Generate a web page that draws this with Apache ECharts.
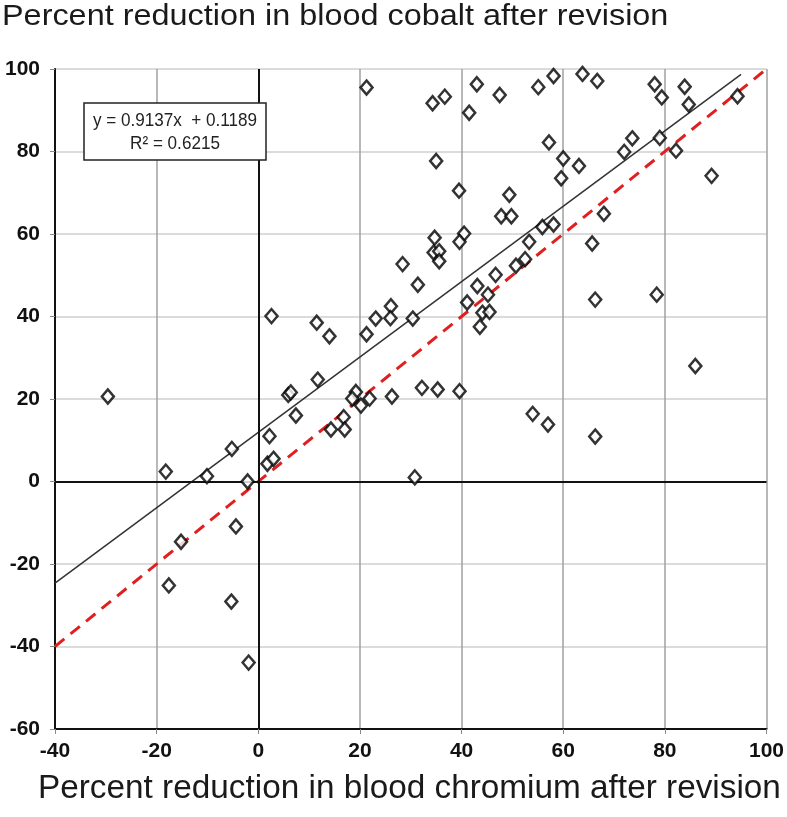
<!DOCTYPE html>
<html><head><meta charset="utf-8">
<script src="https://cdn.jsdelivr.net/npm/echarts@6/dist/echarts.min.js"></script>
<style>html,body{margin:0;padding:0;background:#fff}#c{width:787px;height:817px}</style>
</head><body><div id="c"></div>
<script>
const chromium = [-29.6,2.6,5.9,6.4,7.4,2.2,-5.2,1.8,3.0,-18.2,-10.1,-2.1,-15.2,-4.4,-17.6,-5.3,-1.9,
21.3,34.3,36.7,43.0,41.5,47.5,55.1,35.0,39.5,49.4,47.8,49.8,34.7,40.5,39.6,34.5,35.6,35.6,28.4,57.2,53.3,55.9,58.1,52.5,50.7,46.7,31.4,
58.1,63.8,66.7,78.0,79.4,83.9,84.7,94.3,60.0,59.6,63.1,72.0,73.6,79.0,82.2,89.2,68.0,65.7,
11.5,14.0,21.3,23.1,26.1,26.0,30.4,41.1,43.1,45.2,44.1,45.5,43.6,11.7,19.2,18.5,20.2,21.9,26.3,32.2,35.3,39.6,16.8,14.3,17.0,30.8,54.0,57.0,66.3,66.3,78.4,86.0];
const cobalt = [20.6,40.1,21.0,21.6,16.0,11.0,7.9,4.3,5.5,2.4,1.3,0,-14.6,-10.9,-25.2,-29.1,-43.9,
95.5,91.7,93.3,96.3,89.4,93.7,95.6,77.7,70.5,69.5,64.3,64.3,59.1,60.1,58.1,55.5,55.8,53.4,52.7,82.2,58.1,61.7,62.3,53.9,52.3,50.1,47.7,
98.3,98.8,97.1,96.3,93.1,95.7,91.4,93.4,78.3,73.5,76.5,79.9,83.2,83.3,80.2,74.1,64.9,57.7,
38.5,35.2,35.7,39.5,42.5,39.6,39.5,43.4,47.4,45.3,40.9,41.1,37.5,24.7,21.7,20.1,18.4,20.1,20.6,22.7,22.3,21.9,15.6,12.6,12.6,1.0,16.4,13.8,10.9,44.1,45.3,28.0];
const trendX = [-40, 95];
const trendSlope = 0.9137, trendIntercept = 11.89;
const identityX = [-40, 100];
const titleText = 'Percent reduction in blood cobalt after revision';
const xTitleText = 'Percent reduction in blood chromium after revision';
const eqLine1 = 'y = 0.9137x  + 0.1189';
const eqLine2 = 'R² = 0.6215';

const points = chromium.map((x,i)=>[x,cobalt[i]]);
const trend = trendX.map(x=>[x, trendSlope*x+trendIntercept]);
const identity = identityX.map(x=>[x,x]);
const FONT = '"Liberation Sans",Arial,Helvetica,sans-serif';

const chart = echarts.init(document.getElementById('c'));
chart.setOption({
  animation:false,
  grid:{left:55,top:69,right:17,bottom:88},
  xAxis:{type:'value',min:-40,max:100,interval:20,
    axisLine:{show:true,onZero:false,lineStyle:{color:'#111',width:2}},
    axisTick:{show:true,length:5,lineStyle:{color:'#888'}},
    splitLine:{show:true,lineStyle:{color:'#a0a0a0',width:1.5}},
    axisLabel:{fontFamily:FONT,fontWeight:'bold',fontSize:21,color:'#111',margin:12}},
  yAxis:{type:'value',min:-60,max:100,interval:20,
    axisLine:{show:true,onZero:false,lineStyle:{color:'#111',width:2}},
    axisTick:{show:true,length:5,lineStyle:{color:'#888'}},
    splitLine:{show:true,lineStyle:{color:'#cfcfcf',width:1.5}},
    axisLabel:{fontFamily:FONT,fontWeight:'bold',fontSize:21,color:'#111',margin:15}},
  series:[
    {type:'line',data:identity,symbol:'none',z:3,
     lineStyle:{color:'#e02020',width:3,type:[12,8]},
     markLine:{silent:true,symbol:'none',label:{show:false},
       lineStyle:{color:'#111',width:2,type:'solid'},
       data:[{yAxis:0},{xAxis:0}]}},
    {type:'line',data:trend,symbol:'none',z:4,lineStyle:{color:'#333',width:1.5}},
    {type:'scatter',data:points,symbol:'diamond',symbolSize:[12,14],z:5,
     itemStyle:{color:'#fff',borderColor:'#000',borderWidth:2.5}}
  ],
  graphic:[
    {type:'text',x:2,y:2,scaleX:1.08,style:{text:titleText,font:'30px '+FONT,fill:'#1a1a1a',verticalAlign:'top'}},
    {type:'text',x:38,y:772,scaleX:1.01,style:{text:xTitleText,font:'33px '+FONT,fill:'#1a1a1a',verticalAlign:'top'}},
    {type:'rect',shape:{x:84,y:103,width:182,height:57},style:{fill:'#fff',stroke:'#222',lineWidth:1.5},z:10},
    {type:'text',x:175,y:121,scaleX:0.9,style:{text:eqLine1,font:'19px '+FONT,fill:'#222',align:'center',verticalAlign:'middle'},z:11},
    {type:'text',x:175,y:144,scaleX:0.9,style:{text:eqLine2,font:'19px '+FONT,fill:'#222',align:'center',verticalAlign:'middle'},z:11}
  ]
});
</script></body></html>
